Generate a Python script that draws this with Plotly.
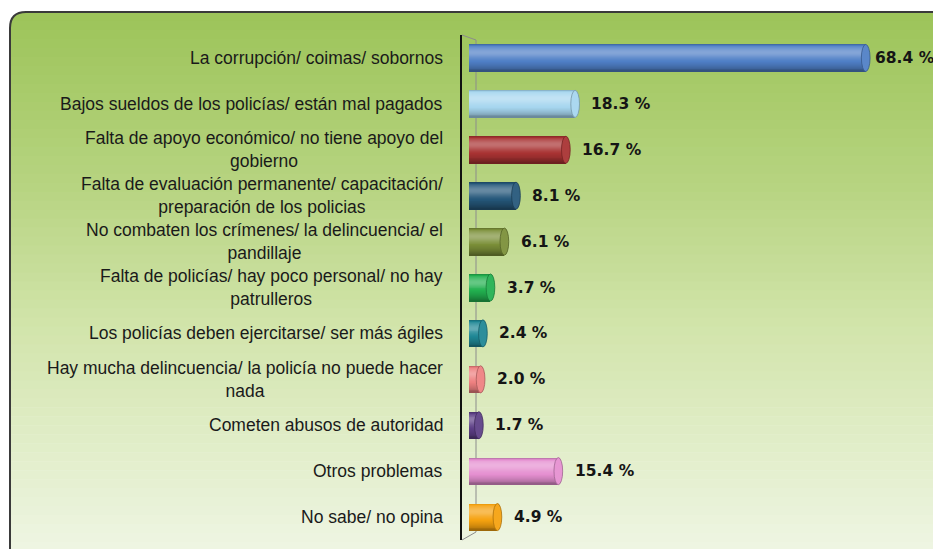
import math
import plotly.graph_objects as go

# ---------------- data ----------------
categories = [
    "La corrupción/ coimas/ sobornos",
    "Bajos sueldos de los policías/ están mal pagados",
    "Falta de apoyo económico/ no tiene apoyo del<br>gobierno",
    "Falta de evaluación permanente/ capacitación/<br>preparación de los policias",
    "No combaten los crímenes/ la delincuencia/ el<br>pandillaje",
    "Falta de policías/ hay poco personal/ no hay<br>patrulleros",
    "Los policías deben ejercitarse/ ser más ágiles",
    "Hay mucha delincuencia/ la policía no puede hacer<br>nada",
    "Cometen abusos de autoridad",
    "Otros problemas",
    "No sabe/ no opina",
]
values = [68.4, 18.3, 16.7, 8.1, 6.1, 3.7, 2.4, 2.0, 1.7, 15.4, 4.9]
bar_colors = ["#4f7fc6", "#a6d6ef", "#a83232", "#25577a", "#7b8f38", "#22b04f",
              "#1f8795", "#ee8080", "#5d3f86", "#e58fd0", "#f5a10f"]

# ---------------- geometry (screen px; page body has an 8px margin) ----------------
OFF = 8
SW, SH = 941, 549
W, H = SW - OFF, SH - OFF
plot_l, plot_r, plot_t, plot_b = 462, 932, 35, 540
L, R, T, B = plot_l - OFF, W - (plot_r - OFF), plot_t - OFF, H - (plot_b - OFF)
pw, ph = plot_r - plot_l, plot_b - plot_t
scale = 5.8          # px per percentage point
zero_px = 469
x_min = -(zero_px - plot_l) / scale
x_max = x_min + pw / scale
bar_w = 0.59
n = len(categories)


def px(x):
    return (x - plot_l) / pw


def py(y):
    return (plot_b - y) / ph


def hex2rgb(h):
    h = h.lstrip("#")
    return [int(h[i:i + 2], 16) for i in (0, 2, 4)]


def mix(h, s):
    r = hex2rgb(h)
    if s >= 0:
        c = [v + (255 - v) * s for v in r]
    else:
        c = [v * (1 + s) for v in r]
    return "rgb(%d,%d,%d)" % tuple(int(round(max(0, min(255, v)))) for v in c)


def shade(t):
    s = 0.30 * math.exp(-((t + 0.4) / 0.4) ** 2)
    s -= 0.38 * max(0.0, t) ** 2
    s -= 0.22 * math.exp(-((t + 1.0) / 0.12) ** 2)
    return s


fig = go.Figure()

# cylinder-like bars from overlaid bands (each band reaches the bar bottom -> no seams)
NB = 28
for k in range(NB):
    t = -1 + (2 * k + 1) / NB
    s = shade(t)
    fig.add_trace(go.Bar(
        y=list(range(n)), x=values, orientation="h",
        width=bar_w - k * bar_w / NB, offset=-bar_w / 2 + k * bar_w / NB,
        marker=dict(color=[mix(c, s) for c in bar_colors], line=dict(width=0)),
        hoverinfo="skip", showlegend=False,
    ))

shapes = []

# background gradient panel
stops = [(0.0, "#9dc45a"), (0.3, "#b5d37e"), (0.6, "#d3e5ad"), (1.0, "#eef5e2")]


def grad(f):
    for (a, ca), (b, cb) in zip(stops[:-1], stops[1:]):
        if a <= f <= b:
            u = (f - a) / (b - a)
            ra, rb = hex2rgb(ca), hex2rgb(cb)
            return "rgb(%d,%d,%d)" % tuple(int(round(x + (y - x) * u)) for x, y in zip(ra, rb))
    return stops[-1][1]


top_px, left_px, NBG = 12, 10, 60
for i in range(NBG):
    y0 = top_px + i * (SH + 2 - top_px) / NBG
    y1 = top_px + (i + 1) * (SH + 2 - top_px) / NBG + 0.6
    shapes.append(dict(type="rect", xref="paper", yref="paper",
                       x0=px(left_px), x1=px(SW + 5), y0=py(y1), y1=py(y0),
                       fillcolor=grad(i / (NBG - 1)), line=dict(width=0), layer="below"))

rad = 16
# white mask for rounded corner
shapes.append(dict(type="path", xref="paper", yref="paper", layer="below",
                   path=f"M {px(left_px - 1)},{py(top_px - 1)} L {px(left_px + rad)},{py(top_px - 1)} "
                        f"L {px(left_px + rad)},{py(top_px)} Q {px(left_px)},{py(top_px)} {px(left_px)},{py(top_px + rad)} "
                        f"L {px(left_px - 1)},{py(top_px + rad)} Z",
                   fillcolor="white", line=dict(width=0)))
# border
shapes.append(dict(type="path", xref="paper", yref="paper", layer="below",
                   path=f"M {px(left_px)},{py(SH + 5)} L {px(left_px)},{py(top_px + rad)} "
                        f"Q {px(left_px)},{py(top_px)} {px(left_px + rad)},{py(top_px)} L {px(SW + 5)},{py(top_px)}",
                   line=dict(color="#3a3a3a", width=2)))
# back wall line (3D floor)
shapes.append(dict(type="path", xref="paper", yref="paper", layer="below",
                   path=f"M {px(plot_l)},{py(plot_t)} L {px(476)},{py(plot_t + 5)} L {px(476)},{py(plot_b - 8)} L {px(plot_l)},{py(plot_b)}",
                   line=dict(color="#8c8c8c", width=1)))

# end caps of cylinders
cap_half = 0.75
cap_px = cap_half * scale
for i, (v, c) in enumerate(zip(values, bar_colors)):
    shapes.append(dict(type="circle", xref="x", yref="y",
                       x0=v - cap_half, x1=v + cap_half,
                       y0=i - bar_w / 2, y1=i + bar_w / 2,
                       fillcolor=mix(c, 0.06), line=dict(color=mix(c, -0.3), width=0.8)))

annotations = []
for i, cat in enumerate(categories):
    annotations.append(dict(x=0, xref="paper", y=i, yref="y", text=cat,
                            xanchor="right", yanchor="middle", xshift=-17, align="center",
                            showarrow=False,
                            font=dict(family="Liberation Sans, Arial", size=17.5, color="#1a1a1a")))

label_w_est = 70
for i, v in enumerate(values):
    bar_end_px = zero_px + v * scale + cap_px
    room = SW - 2 - label_w_est - bar_end_px
    shift = cap_px + max(3, min(10, room))
    annotations.append(dict(x=v, xref="x", y=i, yref="y", text=f"{v:.1f} %",
                            xanchor="left", yanchor="middle", xshift=shift, showarrow=False,
                            font=dict(family="DejaVu Sans", size=15.5, color="#151515", weight="bold")))

fig.update_layout(
    width=W, height=H,
    margin=dict(l=L, r=R, t=T, b=B, autoexpand=False),
    paper_bgcolor="white", plot_bgcolor="rgba(0,0,0,0)",
    barmode="overlay", bargap=0,
    showlegend=False,
    shapes=shapes, annotations=annotations,
    xaxis=dict(range=[x_min, x_max], showgrid=False, zeroline=False,
               showticklabels=False, ticks="", showline=False),
    yaxis=dict(range=[n - 0.5, -0.5], showgrid=False, zeroline=False,
               showticklabels=False, ticks="", showline=True,
               linecolor="#111111", linewidth=2),
)

fig.write_html("out.html")
